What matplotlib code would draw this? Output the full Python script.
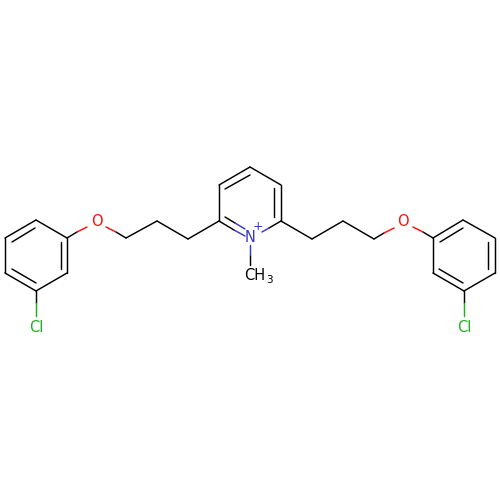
import matplotlib
matplotlib.use("Agg")
import matplotlib.pyplot as plt

BLACK = "#000000"
RED = "#ff0d0d"
BLUE = "#3838c8"
GREEN = "#1fb01f"

# black bonds: x0, y0, x1, y1
black_x0 = [250, 219, 219, 250, 281, 219, 188, 157, 281, 312, 343,
            67, 36, 5, 5, 36, 67, 433, 463, 495, 495, 464, 433,
            225, 274, 225, 12, 61, 12, 440, 488, 439, 281, 250, 126, 67, 374, 433, 36, 464]
black_y0 = [167, 185, 221, 167, 185, 221, 239, 221, 221, 239, 221,
            238, 220, 238, 273, 291, 273, 238, 220, 238, 273, 291, 273,
            189, 188, 217, 242, 242, 269, 242, 242, 269, 221, 265, 238, 238, 239, 238, 291, 291]
black_x1 = [219, 219, 234, 281, 281, 188, 157, 126, 312, 343, 374,
            36, 5, 5, 36, 67, 67, 463, 495, 495, 464, 433, 433,
            250, 274, 235, 35, 61, 36, 463, 488, 463, 269, 250, 116, 77, 384, 423, 36, 464]
black_y1 = [185, 221, 230, 185, 221, 239, 221, 238, 239, 221, 239,
            220, 238, 273, 291, 273, 238, 220, 238, 273, 291, 273, 238,
            175, 217, 223, 228, 269, 283, 228, 269, 283, 228, 255, 232, 232, 233, 232, 303, 303]

# coloured bonds
col_x0 = [234, 235, 269, 250, 116, 77, 384, 423, 36, 464]
col_y0 = [230, 223, 228, 255, 232, 232, 233, 232, 303, 303]
col_x1 = [245, 245, 262, 250, 106, 87, 394, 413, 36, 464]
col_y1 = [236, 229, 232, 245, 227, 227, 228, 227, 316, 316]
col_c = [BLUE, BLUE, BLUE, BLUE, RED, RED, RED, RED, GREEN, GREEN]

# atom labels
lab_x = [250, 258, 97, 403, 36, 464]
lab_y = [238, 226, 222, 222, 327, 327]
lab_t = ["N", "+", "O", "O", "Cl", "Cl"]
lab_c = [BLUE, BLUE, RED, RED, GREEN, GREEN]

fig = plt.figure(figsize=(5, 5), dpi=100)
ax = fig.add_axes([0, 0, 1, 1])
ax.set_xlim(0, 500)
ax.set_ylim(500, 0)
ax.axis("off")

for a, b, c, d in zip(black_x0, black_y0, black_x1, black_y1):
    ax.plot([a, c], [b, d], color=BLACK, lw=1.05, solid_capstyle="round")
for a, b, c, d, k in zip(col_x0, col_y0, col_x1, col_y1, col_c):
    ax.plot([a, c], [b, d], color=k, lw=1.05, solid_capstyle="round")
for x, y, t, k in zip(lab_x, lab_y, lab_t, lab_c):
    ax.text(x, y, t, color=k, fontsize=10.5 if t != "+" else 9, ha="center", va="center",
            family="DejaVu Sans")
ax.text(244, 275, "CH", color=BLACK, fontsize=10.5, ha="left", va="center",
        family="DejaVu Sans")
ax.text(269, 280, "3", color=BLACK, fontsize=7.5, ha="center", va="center",
        family="DejaVu Sans")

fig.savefig("out.png", dpi=100)
